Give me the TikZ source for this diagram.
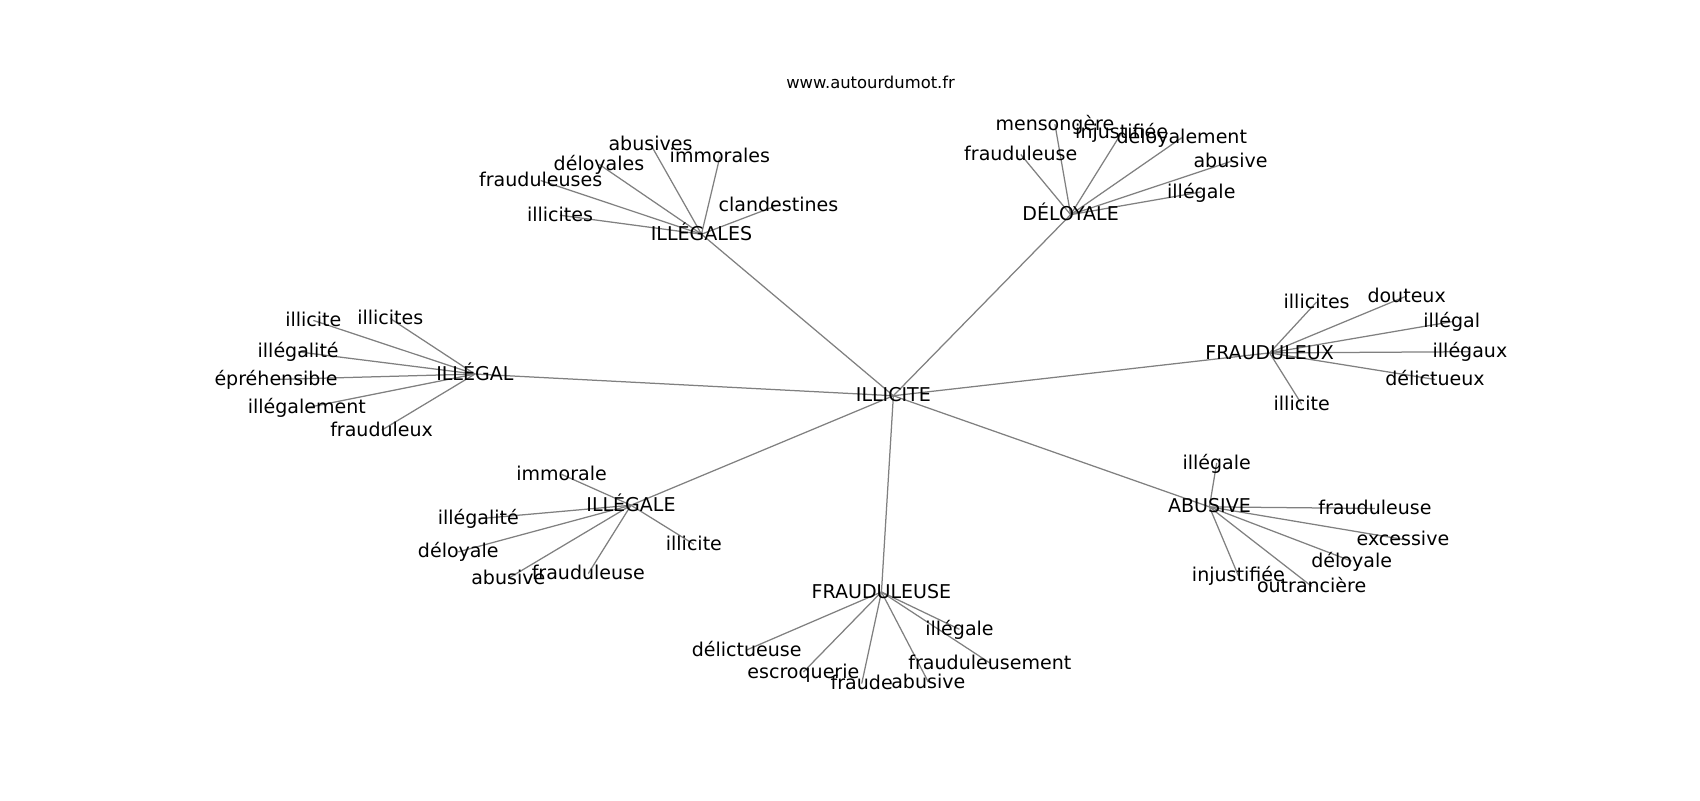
\documentclass[tikz,border=0pt]{standalone}
\usepackage{fontspec}
\setmainfont{DejaVu Sans}
\usetikzlibrary{backgrounds}
\begin{document}
\begin{tikzpicture}[x=0.78061pt,y=-0.78061pt,
  lbl/.style={font=\fontsize{13.7}{16}\selectfont, inner sep=0pt, text height=0.94em, text depth=0.06em, anchor=center},
  ttl/.style={font=\fontsize{11.8}{14}\selectfont, inner sep=0pt, text height=0.94em, text depth=0.06em, anchor=center},
  edge/.style={draw=gray, line width=0.9pt}]
\useasboundingbox (0,0) rectangle (1568,738);
\node[ttl] (title) at (803,76) {www.autourdumot.fr};
% hubs
\node[lbl] (c) at (824,365) {ILLICITE};
\node[lbl] (h1) at (647,216) {ILLÉGALES};
\node[lbl] (h2) at (987.5,198) {DÉLOYALE};
\node[lbl] (h3) at (438,345) {ILLÉGAL};
\node[lbl] (h4) at (1171,325.5) {FRAUDULEUX};
\node[lbl] (h5) at (582,466) {ILLÉGALE};
\node[lbl] (h6) at (813,546) {FRAUDULEUSE};
\node[lbl] (h7) at (1115.5,467.5) {ABUSIVE};
% ILLEGALES
\node[lbl] (a1) at (516.5,198.5) {illicites};
\node[lbl] (a2) at (498.7,166.5) {frauduleuses};
\node[lbl] (a3) at (552.5,151.5) {déloyales};
\node[lbl] (a4) at (600,133) {abusives};
\node[lbl] (a5) at (664,144.5) {immorales};
\node[lbl] (a6) at (718,189) {clandestines};
% DELOYALE
\node[lbl] (b1) at (941.5,142.5) {frauduleuse};
\node[lbl] (b2) at (973,114.5) {mensongère};
\node[lbl] (b3) at (1034.5,122.5) {injustifiée};
\node[lbl] (b4) at (1090,127) {déloyalement};
\node[lbl] (b5) at (1135,149) {abusive};
\node[lbl] (b6) at (1108,177) {illégale};
% ILLEGAL
\node[lbl] (d1) at (289,295.5) {illicite};
\node[lbl] (d2) at (360,293.8) {illicites};
\node[lbl] (d3) at (275,324.5) {illégalité};
\node[lbl] (d4) at (254.6,350) {épréhensible};
\node[lbl] (d5) at (283,376) {illégalement};
\node[lbl] (d6) at (352,396.8) {frauduleux};
% FRAUDULEUX
\node[lbl] (e1) at (1214.4,278.5) {illicites};
\node[lbl] (e2) at (1297.4,273) {douteux};
\node[lbl] (e3) at (1339,296.7) {illégal};
\node[lbl] (e4) at (1355.8,324.4) {illégaux};
\node[lbl] (e5) at (1323.6,350) {délictueux};
\node[lbl] (e6) at (1200.6,372.8) {illicite};
% ILLEGALE
\node[lbl] (f1) at (518,437.5) {immorale};
\node[lbl] (f2) at (441.2,478.5) {illégalité};
\node[lbl] (f3) at (422.7,509) {déloyale};
\node[lbl] (f4) at (468.8,533.5) {abusive};
\node[lbl] (f5) at (542.6,529) {frauduleuse};
\node[lbl] (f6) at (640,502) {illicite};
% FRAUDULEUSE
\node[lbl] (g1) at (688.7,599.5) {délictueuse};
\node[lbl] (g2) at (741,619.8) {escroquerie};
\node[lbl] (g3) at (794.8,630.5) {fraude};
\node[lbl] (g4) at (856.2,629) {abusive};
\node[lbl] (g5) at (913,611.5) {frauduleusement};
\node[lbl] (g6) at (885,580.5) {illégale};
% ABUSIVE
\node[lbl] (k1) at (1122.2,427) {illégale};
\node[lbl] (k2) at (1268.2,469) {frauduleuse};
\node[lbl] (k3) at (1294,497.5) {excessive};
\node[lbl] (k4) at (1246.7,517.6) {déloyale};
\node[lbl] (k5) at (1209.8,540.8) {outrancière};
\node[lbl] (k6) at (1142.2,531) {injustifiée};
\begin{scope}[on background layer]
\foreach \h in {h1,h2,h3,h4,h5,h6,h7} \draw[edge] (c.center) -- (\h.center);
\foreach \n in {a1,a2,a3,a4,a5,a6} \draw[edge] (h1.center) -- (\n.center);
\foreach \n in {b1,b2,b3,b4,b5,b6} \draw[edge] (h2.center) -- (\n.center);
\foreach \n in {d1,d2,d3,d4,d5,d6} \draw[edge] (h3.center) -- (\n.center);
\foreach \n in {e1,e2,e3,e4,e5,e6} \draw[edge] (h4.center) -- (\n.center);
\foreach \n in {f1,f2,f3,f4,f5,f6} \draw[edge] (h5.center) -- (\n.center);
\foreach \n in {g1,g2,g3,g4,g5,g6} \draw[edge] (h6.center) -- (\n.center);
\foreach \n in {k1,k2,k3,k4,k5,k6} \draw[edge] (h7.center) -- (\n.center);
\end{scope}
\end{tikzpicture}
\end{document}
